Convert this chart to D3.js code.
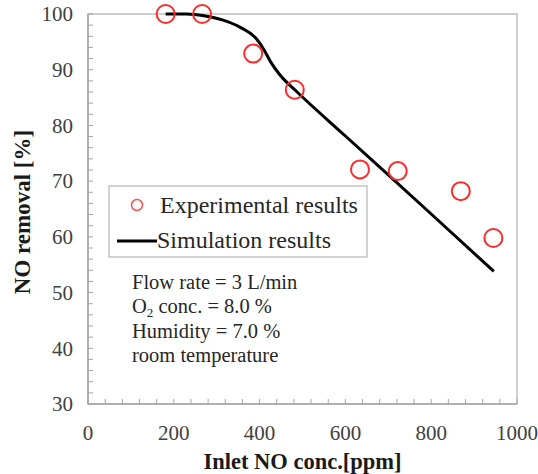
<!DOCTYPE html>
<html>
<head>
<meta charset="utf-8">
<script src="https://cdn.jsdelivr.net/npm/d3@7"></script>
<style>
  body { margin: 0; background: #fff; }
  text { font-family: "Liberation Serif", "Times New Roman", serif; }
</style>
</head>
<body>
<div id="chart"></div>
<script>
// experimental points
const expX = [181, 266, 385, 482, 634, 722, 869, 945];
const expY = [100, 100, 92.9, 86.4, 72.1, 71.8, 68.2, 59.8];
// simulation curve
const simX = [181, 230, 270, 315, 355, 393, 410, 425, 448, 482, 600, 800, 946];
const simY = [100, 100, 99.7, 98.9, 97.6, 95.5, 93.6, 91.5, 89.0, 86.4, 78.1, 64.1, 53.8];

const xTicks = [0, 200, 400, 600, 800, 1000];
const yTicks = [30, 40, 50, 60, 70, 80, 90, 100];
const legendLabels = ['Experimental results', 'Simulation results'];
const notes = ['Flow rate = 3 L/min', 'O2 conc. = 8.0 %', 'Humidity = 7.0 %', 'room temperature'];

const W = 538, H = 474;
const m = { left: 88, top: 14, right: 21, bottom: 70 };
const iw = W - m.left - m.right, ih = H - m.top - m.bottom;

const svg = d3.select('#chart').append('svg')
    .attr('width', W)
    .attr('height', H);

const x = d3.scaleLinear().domain([0, 1000]).range([0, iw]);
const y = d3.scaleLinear().domain([30, 100]).range([ih, 0]);

const g = svg.append('g').attr('transform', `translate(${m.left},${m.top})`);

// frame
g.append('rect')
    .attr('width', iw).attr('height', ih)
    .attr('fill', 'none')
    .attr('stroke', '#bfbfbf')
    .attr('stroke-width', 1.5);

// minor ticks (inside)
const gray = '#a6a6a6';
g.selectAll('.ytk').data(d3.range(30, 100.1, 2)).join('line')
    .attr('x1', 0).attr('x2', 5)
    .attr('y1', d => y(d)).attr('y2', d => y(d))
    .attr('stroke', gray).attr('stroke-width', 1);
g.selectAll('.xtk').data(d3.range(0, 1000.1, 40)).join('line')
    .attr('x1', d => x(d)).attr('x2', d => x(d))
    .attr('y1', ih).attr('y2', ih - 5)
    .attr('stroke', gray).attr('stroke-width', 1);

// axes lines
g.append('line').attr('x1', 0).attr('x2', 0).attr('y1', 0).attr('y2', ih)
    .attr('stroke', gray).attr('stroke-width', 1.5);
g.append('line').attr('x1', 0).attr('x2', iw).attr('y1', ih).attr('y2', ih)
    .attr('stroke', gray).attr('stroke-width', 1.5);

// tick labels
g.selectAll('.yl').data(yTicks).join('text')
    .attr('x', -15)
    .attr('y', d => y(d))
    .attr('dy', '0.35em')
    .attr('text-anchor', 'end')
    .attr('fill', '#404040')
    .style('font-size', '21px')
    .text(d => d);
g.selectAll('.xl').data(xTicks).join('text')
    .attr('x', d => x(d))
    .attr('y', ih + 36)
    .attr('text-anchor', 'middle')
    .attr('fill', '#404040')
    .style('font-size', '21px')
    .text(d => d);

// axis titles
g.append('text')
    .attr('x', iw / 2).attr('y', ih + 65)
    .attr('text-anchor', 'middle')
    .style('font-size', '22.5px').style('font-weight', 'bold')
    .attr('fill', '#1a1a1a')
    .text('Inlet NO conc.[ppm]');
svg.append('text')
    .attr('transform', `translate(30,${m.top + ih / 2 + 3}) rotate(-90)`)
    .attr('text-anchor', 'middle')
    .style('font-size', '23px').style('font-weight', 'bold')
    .attr('fill', '#1a1a1a')
    .text('NO removal [%]');

// simulation line
const line = d3.line()
    .x(i => x(simX[i]))
    .y(i => y(simY[i]))
    .curve(d3.curveMonotoneX);
g.append('path')
    .attr('d', line(d3.range(simX.length)))
    .attr('fill', 'none')
    .attr('stroke', '#000')
    .attr('stroke-width', 3);

// experimental circles
g.selectAll('.pt').data(d3.range(expX.length)).join('circle')
    .attr('cx', i => x(expX[i]))
    .attr('cy', i => y(expY[i]))
    .attr('r', 9)
    .attr('fill', 'none')
    .attr('stroke', '#ff2a2a')
    .attr('stroke-width', 2);

// legend
const lg = svg.append('g');
lg.append('rect')
    .attr('x', 109).attr('y', 186).attr('width', 258).attr('height', 71)
    .attr('fill', '#fff').attr('stroke', '#a6a6a6').attr('stroke-width', 1);
lg.append('circle')
    .attr('cx', 137).attr('cy', 205).attr('r', 5.5)
    .attr('fill', 'none').attr('stroke', '#ff5050').attr('stroke-width', 1.5);
lg.append('line')
    .attr('x1', 117).attr('x2', 157).attr('y1', 241).attr('y2', 241)
    .attr('stroke', '#000').attr('stroke-width', 3);
lg.selectAll('.lt').data(legendLabels).join('text')
    .attr('x', (d, i) => i === 0 ? 160 : 157)
    .attr('y', (d, i) => 213 + i * 35)
    .attr('fill', '#262626')
    .style('font-size', '24px')
    .text(d => d);

// conditions note
const nt = svg.selectAll('.nt').data(notes).join('text')
    .attr('x', 132)
    .attr('y', (d, i) => 289 + i * 24.3)
    .attr('fill', '#262626')
    .style('font-size', '20.5px');
nt.each(function (d) {
    const t = d3.select(this);
    if (d.startsWith('O2')) {
        t.append('tspan').text('O');
        t.append('tspan').text('2').attr('dy', 4).style('font-size', '13px');
        t.append('tspan').text(d.slice(2)).attr('dy', -4);
    } else {
        t.text(d);
    }
});
</script>
</body>
</html>
